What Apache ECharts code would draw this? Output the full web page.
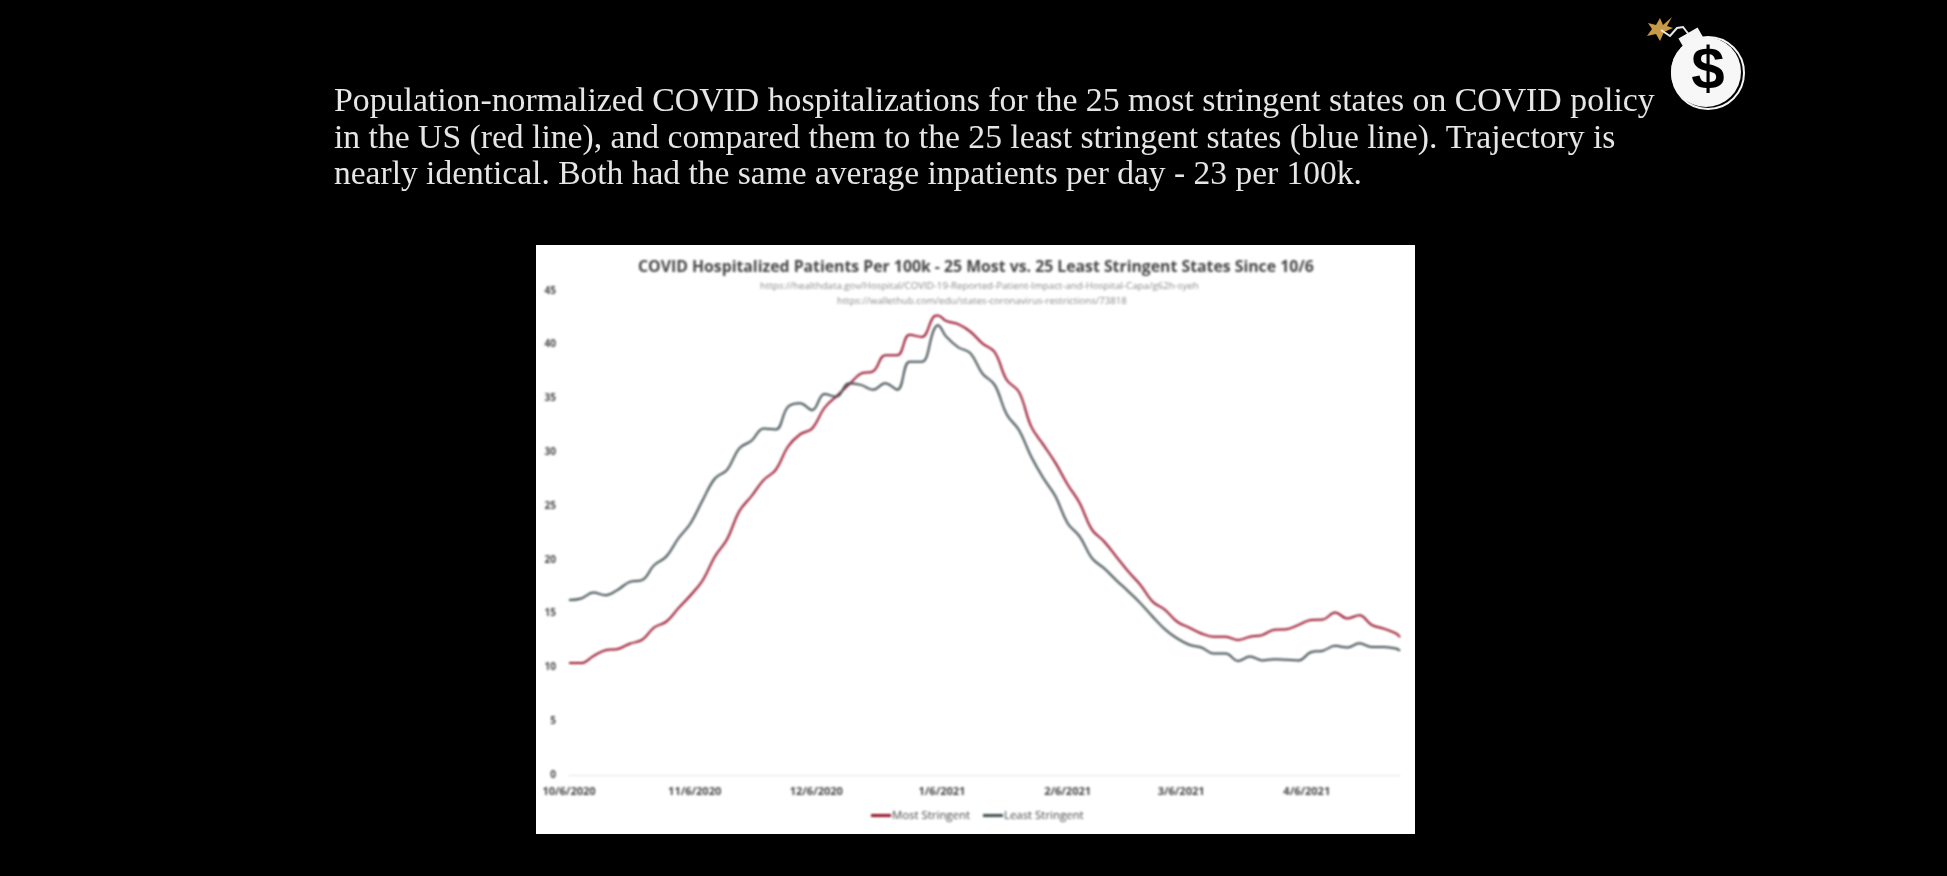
<!DOCTYPE html>
<html><head><meta charset="utf-8">
<style>html,body{margin:0;padding:0;background:#000;width:1947px;height:876px;overflow:hidden}
#page,#chart{position:absolute;left:0;top:0;width:1947px;height:876px}
#page{filter:blur(0.4px)}
#chart{filter:blur(0.9px)}</style>
<script src="https://cdn.jsdelivr.net/npm/echarts@6/dist/echarts.min.js"></script>
</head><body><div id="page"></div><div id="chart"></div>
<script>
const captionLines = [
  "Population-normalized COVID hospitalizations for the 25 most stringent states on COVID policy",
  "in the US (red line), and compared them to the 25 least stringent states (blue line). Trajectory is",
  "nearly identical. Both had the same average inpatients per day - 23 per 100k."
];
const chartTitle = "COVID Hospitalized Patients Per 100k - 25 Most vs. 25 Least Stringent States Since 10/6";
const sourceLines = [
  "https://healthdata.gov/Hospital/COVID-19-Reported-Patient-Impact-and-Hospital-Capa/g62h-syeh",
  "https://wallethub.com/edu/states-coronavirus-restrictions/73818"
];
const tickDays = [0,31,61,92,123,151,182];
const tickLabels = ["10/6/2020","11/6/2020","12/6/2020","1/6/2021","2/6/2021","3/6/2021","4/6/2021"];
const dayOffsets = [0,3,6,9,12,15,18,21,24,27,30,33,36,39,42,45,48,51,54,57,60,63,66,69,72,75,78,81,84,87,90,91,93,96,99,102,105,108,111,114,117,120,123,126,129,132,135,138,141,144,147,150,153,156,159,162,165,168,171,174,177,180,183,186,189,192,195,198,201,204,205];
const mostStringent = [10.4,10.4,11.05,11.6,11.7,12.2,12.55,13.7,14.25,15.5,16.7,18.1,20.3,21.9,24.5,25.9,27.4,28.35,30.5,31.65,32.2,34.1,35.2,36.25,37.3,37.5,39.0,39.0,40.9,40.7,42.6,42.7,42.2,41.9,41.2,40.1,39.3,36.7,35.6,32.4,30.7,29.0,27.0,25.25,22.8,21.7,20.3,18.9,17.65,16.1,15.35,14.25,13.7,13.15,12.85,12.85,12.55,12.85,13.0,13.5,13.55,13.95,14.4,14.45,15.1,14.55,14.85,13.95,13.6,13.15,12.8];
const leastStringent = [16.25,16.4,16.95,16.7,17.2,17.95,18.1,19.5,20.3,22.0,23.4,25.55,27.55,28.35,30.35,31.05,32.2,32.1,34.2,34.55,33.9,35.4,35.15,36.4,36.25,35.8,36.4,35.8,38.4,38.4,41.35,41.8,40.75,39.75,39.2,37.3,36.25,33.5,32.05,29.6,27.6,25.9,23.4,22.15,20.15,19.2,18.1,17.05,15.95,14.7,13.55,12.7,12.1,11.85,11.3,11.3,10.6,11.0,10.65,10.75,10.7,10.65,11.4,11.55,12.0,11.85,12.25,11.9,11.9,11.75,11.55];

const pair = arr => arr.map((v,i)=>[dayOffsets[i],v]);

// Page layer: black ground, caption, bomb logo, white panel
const page = echarts.init(document.getElementById('page'),null,{width:1947,height:876});
const serif = '"Liberation Serif",serif';
const captionSizes = [33.8,33.65,33.5];
page.setOption({
  backgroundColor:'#000',
  graphic:[
    ...captionLines.map((t,i)=>({type:'text',left:334,top:85+i*36.8,style:{text:t,fill:'#e6e6e6',font:captionSizes[i]+'px '+serif}})),
    {type:'rect',shape:{x:536,y:245,width:879,height:589},style:{fill:'#fff'}},
    {type:'polygon',shape:{points:[[1672,17],[1667,26],[1673,28],[1664,32],[1660,41],[1656,34],[1647,36],[1652,29],[1648,23],[1656,25],[1660,18],[1663,25]]},style:{fill:'#c99a45'}},
    {type:'polyline',shape:{points:[[1661,30],[1670,36],[1677,28],[1683,27],[1690,36]]},style:{stroke:'#e8e8e8',fill:null,lineWidth:2}},
    {type:'rect',shape:{x:-11,y:-8,width:22,height:16},rotation:0.52,x:1692,y:40,style:{fill:'#f5f5f5'}},
    {type:'circle',shape:{cx:1708,cy:73,r:36},style:{stroke:'#f5f5f5',fill:'#000',lineWidth:2}},
    {type:'circle',shape:{cx:1706,cy:72,r:35},style:{fill:'#f7f7f7'}},
    {type:'text',x:1708,y:72,style:{text:'$',fill:'#000',font:'bold 60px "Liberation Sans",sans-serif',align:'center',verticalAlign:'middle'}}
  ]
});

// Chart layer
const chart = echarts.init(document.getElementById('chart'),null,{width:1947,height:876});
const sans = '"Open Sans",sans-serif';
chart.setOption({
  backgroundColor:'transparent',
  animation:false,
  title:[
    {text:chartTitle,left:633,top:254,textStyle:{color:'#444',fontSize:15.8,fontWeight:'bold',fontFamily:sans}},
    {text:sourceLines[0],left:755,top:276,textStyle:{color:'#888',fontSize:9.7,fontWeight:'normal',fontFamily:sans}},
    {text:sourceLines[1],left:832,top:291,textStyle:{color:'#888',fontSize:9.6,fontWeight:'normal',fontFamily:sans}}
  ],
  legend:{left:866,top:805,itemWidth:20,itemHeight:3,itemGap:13,icon:'rect',
    textStyle:{color:'#444',fontSize:11.4,fontFamily:sans,padding:[0,0,0,-4]},
    data:['Most Stringent','Least Stringent']},
  grid:{left:569,right:547,top:290.7,bottom:101,containLabel:false},
  xAxis:{type:'value',min:0,max:205,
    axisLine:{show:true,onZero:false,lineStyle:{color:'#e4e4e4',width:1}},axisTick:{show:false},splitLine:{show:false},
    axisLabel:{customValues:tickDays,margin:11,color:'#444',fontSize:11,fontWeight:'bold',fontFamily:sans,
      formatter:v=>tickLabels[tickDays.indexOf(v)]}},
  yAxis:{type:'value',min:0,max:45,interval:5,
    axisLine:{show:false},axisTick:{show:false},splitLine:{show:false},
    axisLabel:{margin:13,color:'#444',fontSize:10,fontWeight:'bold',fontFamily:sans}},
  series:[
    {name:'Most Stringent',type:'line',data:pair(mostStringent),showSymbol:false,smooth:0.4,lineStyle:{color:'#98102a',width:2},itemStyle:{color:'#98102a'},z:2},
    {name:'Least Stringent',type:'line',data:pair(leastStringent),showSymbol:false,smooth:0.4,lineStyle:{color:'#3e4b4f',width:2},itemStyle:{color:'#3e4b4f'},z:3}
  ]
});
</script></body></html>
